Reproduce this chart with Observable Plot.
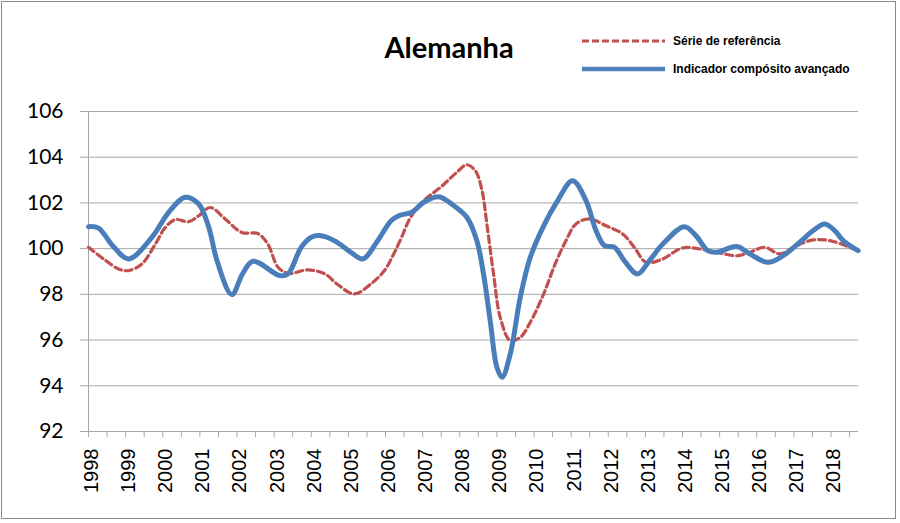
<!DOCTYPE html>
<html>
<head>
<meta charset="utf-8">
<script src="https://cdn.jsdelivr.net/npm/d3@7"></script>
<script src="https://cdn.jsdelivr.net/npm/@observablehq/plot@0.6"></script>
<style>
  html, body { margin: 0; padding: 0; background: #fff; }
  #wrap { position: relative; width: 900px; height: 523px; overflow: hidden; }
  #frame { position: absolute; left: 1px; top: 1px; width: 895px; height: 518px; border: 1.5px solid #8a8a8a; box-sizing: border-box; pointer-events: none; }
  #overlay { position: absolute; left: 0; top: 0; pointer-events: none; }
</style>
</head>
<body>
<div id="wrap">
  <div id="chart"></div>
  <svg id="overlay" width="900" height="100"></svg>
  <div id="frame"></div>
</div>
<script>
// ---- Data (x in decimal years) ----
const title = "Alemanha";
const seriesNames = ["Série de referência", "Indicador compósito avançado"];

const refT = [1998.0, 1998.46, 1998.81, 1999.08, 1999.44, 1999.8, 2000.07, 2000.34, 2000.7, 2000.97, 2001.28, 2001.68, 2002.13, 2002.56, 2002.83, 2003.1, 2003.37, 2003.91, 2004.36, 2004.72, 2005.16, 2005.61, 2005.97, 2006.2, 2006.42, 2006.67, 2007.03, 2007.48, 2007.92, 2008.19, 2008.42, 2008.6, 2008.73, 2008.91, 2009.09, 2009.36, 2009.63, 2009.9, 2010.26, 2010.57, 2010.86, 2011.13, 2011.49, 2011.94, 2012.39, 2012.7, 2013.02, 2013.47, 2014.0, 2014.7, 2015.46, 2015.81, 2016.22, 2016.62, 2017.07, 2017.52, 2017.97, 2018.5, 2018.73];
const refV = [100.06, 99.48, 99.11, 99.04, 99.33, 100.2, 100.93, 101.27, 101.18, 101.44, 101.8, 101.3, 100.71, 100.66, 100.2, 99.2, 98.92, 99.07, 98.9, 98.42, 98.02, 98.46, 99.04, 99.7, 100.45, 101.35, 102.1, 102.68, 103.34, 103.67, 103.41, 102.54, 101.08, 98.89, 96.99, 95.98, 96.12, 96.78, 98.02, 99.33, 100.35, 101.08, 101.3, 101.0, 100.64, 100.06, 99.4, 99.55, 100.03, 99.92, 99.69, 99.84, 100.06, 99.77, 100.13, 100.38, 100.35, 100.06, 99.9];

const indT = [1998.0, 1998.27, 1998.64, 1999.08, 1999.71, 2000.16, 2000.61, 2000.97, 2001.24, 2001.46, 2001.86, 2002.15, 2002.43, 2003.15, 2003.37, 2003.73, 2004.0, 2004.22, 2004.62, 2005.07, 2005.39, 2005.79, 2006.15, 2006.37, 2006.71, 2007.03, 2007.43, 2007.84, 2008.19, 2008.46, 2008.64, 2008.82, 2009.0, 2009.14, 2009.36, 2009.63, 2009.9, 2010.26, 2010.6, 2011.04, 2011.4, 2011.67, 2011.9, 2012.17, 2012.43, 2012.79, 2013.11, 2013.47, 2014.05, 2014.36, 2014.68, 2014.92, 2015.46, 2015.81, 2016.3, 2016.71, 2017.16, 2017.52, 2017.83, 2018.1, 2018.33, 2018.73];
const indV = [100.96, 100.9, 100.15, 99.55, 100.5, 101.59, 102.25, 101.95, 100.93, 99.48, 97.99, 98.9, 99.45, 98.82, 98.89, 100.06, 100.5, 100.57, 100.35, 99.84, 99.55, 100.35, 101.22, 101.45, 101.59, 102.03, 102.27, 101.88, 101.37, 100.35, 98.89, 96.85, 94.81, 94.37, 95.39, 97.87, 99.62, 101.0, 102.0, 102.97, 102.1, 100.79, 100.13, 100.06, 99.48, 98.89, 99.48, 100.2, 100.96, 100.57, 99.91, 99.84, 100.09, 99.77, 99.4, 99.69, 100.28, 100.79, 101.08, 100.79, 100.35, 99.91];

const yearLabels = [1998, 1999, 2000, 2001, 2002, 2003, 2004, 2005, 2006, 2007, 2008, 2009, 2010, 2011, 2012, 2013, 2014, 2015, 2016, 2017, 2018];
const halfYearTicks = d3.range(1998, 2018.51, 0.5);
const yTicks = [92, 94, 96, 98, 100, 102, 104, 106];

const refColor = "#C0504D";
const indColor = "#4A7EBB";
const gridColor = "#a8a8a8";

const refData = refT.map((t, i) => ({t, v: refV[i]}));
const indData = indT.map((t, i) => ({t, v: indV[i]}));

const chart = Plot.plot({
  width: 900,
  height: 523,
  marginLeft: 88,
  marginRight: 42,
  marginTop: 111,
  marginBottom: 92,
  style: {background: "transparent", fontFamily: "Lato", color: "#000"},
  x: {domain: [1998, 2018.74], label: null},
  y: {domain: [92, 106], label: null},
  marks: [
    Plot.gridY(yTicks, {stroke: gridColor, strokeOpacity: 1, strokeWidth: 1}),
    Plot.ruleX([1998], {stroke: gridColor, strokeWidth: 1}),
    Plot.axisY(yTicks, {label: null, tickSize: 8, tickPadding: 17, stroke: gridColor, fill: "#000", fontSize: 21, fontFamily: "Lato", tickFormat: d => String(d)}),
    Plot.axisX(halfYearTicks, {label: null, tickSize: 6, stroke: gridColor, tickFormat: () => ""}),
    Plot.axisX(yearLabels, {label: null, tickSize: 0, tickPadding: 17, tickRotate: -90, dx: 3, fill: "#000", fontSize: 20, fontFamily: "Liberation Sans", tickFormat: d => String(d)}),
    Plot.line(refData, {x: "t", y: "v", curve: "catmull-rom", stroke: refColor, strokeWidth: 3.2, strokeDasharray: "7,4"}),
    Plot.line(indData, {x: "t", y: "v", curve: "catmull-rom", stroke: indColor, strokeWidth: 5})
  ]
});
document.getElementById("chart").appendChild(chart);

// ---- Title and legend overlay ----
const ov = d3.select("#overlay");
ov.append("text").attr("x", 449).attr("y", 58).attr("text-anchor", "middle")
  .style("font-family", "Lato").style("font-weight", "bold").style("font-size", "29px")
  .text(title);
const legend = [
  {name: seriesNames[0], color: refColor, dash: "7,3", w: 3, y: 41},
  {name: seriesNames[1], color: "#4F81BD", dash: null, w: 4.5, y: 69}
];
legend.forEach(l => {
  ov.append("line").attr("x1", 582).attr("x2", 665).attr("y1", l.y).attr("y2", l.y)
    .attr("stroke", l.color).attr("stroke-width", l.w).attr("stroke-dasharray", l.dash);
  ov.append("text").attr("x", 673).attr("y", l.y + 4)
    .style("font-family", "Liberation Sans").style("font-weight", "bold").style("font-size", "12px")
    .text(l.name);
});
</script>
</body>
</html>
